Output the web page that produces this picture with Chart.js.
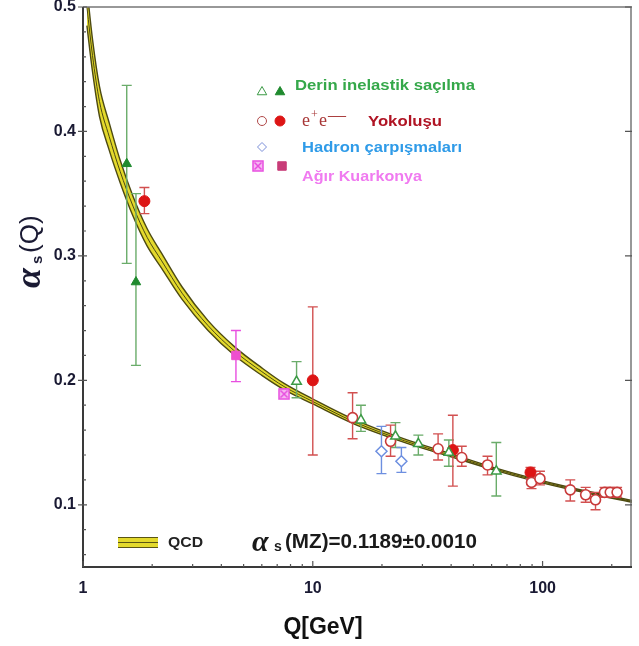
<!DOCTYPE html>
<html>
<head>
<meta charset="utf-8">
<script src="https://cdn.jsdelivr.net/npm/chart.js@4/dist/chart.umd.min.js"></script>
<style>
  html, body { margin: 0; padding: 0; background: #fff; }
</style>
</head>
<body>
<canvas id="alphaChart" width="639" height="646"></canvas>
<script>
// axis ticks
const xTicks = [1, 10, 100];
const yTicks = [0.1, 0.2, 0.3, 0.4, 0.5];
const xMinor = [2, 3, 4, 5, 6, 7, 8, 9, 20, 30, 40, 50, 60, 70, 80, 90, 200];

// QCD band
const bandQ   = [1.04, 1.1, 1.18, 1.3, 1.45, 1.65, 1.9, 2.2, 2.7, 3.5, 4.6, 6, 7.5, 10, 15, 25, 40, 60, 90, 135, 245];
const bandMid = [0.500, 0.461, 0.424, 0.396, 0.368, 0.340, 0.315, 0.296, 0.270, 0.244, 0.223, 0.207, 0.195, 0.183, 0.167, 0.1515, 0.1397, 0.1295, 0.1205, 0.1127, 0.1027];
const bandUp  = [0.515, 0.474, 0.436, 0.407, 0.377, 0.348, 0.322, 0.302, 0.275, 0.248, 0.2265, 0.210, 0.1975, 0.185, 0.1688, 0.1529, 0.1409, 0.1305, 0.1214, 0.1135, 0.1034];
const bandLow = [0.485, 0.448, 0.412, 0.385, 0.359, 0.332, 0.308, 0.290, 0.265, 0.240, 0.2195, 0.204, 0.1925, 0.181, 0.1652, 0.1501, 0.1385, 0.1285, 0.1196, 0.1119, 0.1020];

// Derin inelastik saçılma
const disOpenQ  = [8.5, 16.2, 22.9, 28.8, 39.1, 62.9];
const disOpenA  = [0.199, 0.168, 0.155, 0.149, 0.142, 0.127];
const disOpenLo = [0.186, 0.159, 0.146, 0.140, 0.131, 0.107];
const disOpenHi = [0.215, 0.180, 0.166, 0.156, 0.152, 0.150];
const disFullQ  = [1.55, 1.70];
const disFullA  = [0.374, 0.279];
const disFullLo = [0.294, 0.212];
const disFullHi = [0.437, 0.350];

// e+e- yokoluşu
const eeOpenQ  = [14.9, 21.8, 35.1, 44.5, 57.6, 89.5, 97.4, 132, 154, 170, 186, 197, 211];
const eeOpenA  = [0.170, 0.151, 0.145, 0.138, 0.132, 0.118, 0.121, 0.112, 0.108, 0.104, 0.110, 0.110, 0.110];
const eeOpenLo = [0.153, 0.139, 0.136, 0.131, 0.124, 0.113, 0.116, 0.103, 0.102, 0.096, 0.106, 0.106, 0.106];
const eeOpenHi = [0.190, 0.164, 0.157, 0.147, 0.139, 0.123, 0.127, 0.120, 0.114, 0.110, 0.114, 0.114, 0.114];
const eeFullQ  = [1.85, 10.0, 40.7, 88.6];
const eeFullA  = [0.344, 0.200, 0.144, 0.126];
const eeFullLo = [0.334, 0.140, 0.115, 0.121];
const eeFullHi = [0.355, 0.259, 0.172, 0.130];

// Hadron çarpışmaları
const hadQ  = [19.9, 24.3];
const hadA  = [0.143, 0.135];
const hadLo = [0.125, 0.126];
const hadHi = [0.163, 0.146];

// Ağır kuarkonya
const qqOpenQ  = [7.5];
const qqOpenA  = [0.189];
const qqOpenLo = [0.186];
const qqOpenHi = [0.193];
const qqFullQ  = [4.63];
const qqFullA  = [0.220];
const qqFullLo = [0.199];
const qqFullHi = [0.240];

const GREEN = '#3b9a45', GREEN_BAR = '#6aac6a', GREEN_FULL = '#1f8a2e';
const RED = '#c83a3a', RED_BAR = '#d25050', RED_FULL = '#dd1515';
const BLUE = '#6d8fe0';
const MAG = '#e84fe0', MAG_FULL = '#ee4fcf';
const SANS = '"Liberation Sans", Arial, sans-serif';
const SERIF = '"Liberation Serif", "DejaVu Serif", serif';

const pts = (q, a) => q.map((v, i) => ({ x: v, y: a[i] }));

// crossed square marker
const boxX = document.createElement('canvas');
boxX.width = 12; boxX.height = 12;
(function () {
  const g = boxX.getContext('2d');
  g.fillStyle = '#f7b8f2';
  g.fillRect(1, 1, 10, 10);
  g.strokeStyle = MAG;
  g.lineWidth = 1.5;
  g.strokeRect(1, 1, 10, 10);
  g.beginPath();
  g.moveTo(2.5, 2.5); g.lineTo(9.5, 9.5);
  g.moveTo(9.5, 2.5); g.lineTo(2.5, 9.5);
  g.stroke();
})();

const errGroups = [
  { q: disFullQ, lo: disFullLo, hi: disFullHi, color: GREEN_BAR },
  { q: disOpenQ, lo: disOpenLo, hi: disOpenHi, color: GREEN_BAR },
  { q: eeOpenQ, lo: eeOpenLo, hi: eeOpenHi, color: RED_BAR },
  { q: eeFullQ, lo: eeFullLo, hi: eeFullHi, color: RED_BAR },
  { q: hadQ, lo: hadLo, hi: hadHi, color: BLUE },
  { q: qqOpenQ, lo: qqOpenLo, hi: qqOpenHi, color: MAG },
  { q: qqFullQ, lo: qqFullLo, hi: qqFullHi, color: MAG }
];

// error bars drawn right after the band, below the markers
const errorBars = {
  id: 'errorBars',
  afterDatasetDraw(chart, args) {
    if (!chart.data.datasets[args.index].barsAfter) return;
    const { ctx, scales: { x, y } } = chart;
    ctx.save();
    ctx.lineWidth = 1.4;
    errGroups.forEach(g => {
      ctx.strokeStyle = g.color;
      g.q.forEach((q, i) => {
        const px = x.getPixelForValue(q);
        const y1 = y.getPixelForValue(g.lo[i]);
        const y2 = y.getPixelForValue(g.hi[i]);
        ctx.beginPath();
        ctx.moveTo(px, y1); ctx.lineTo(px, y2);
        ctx.moveTo(px - 5, y1); ctx.lineTo(px + 5, y1);
        ctx.moveTo(px - 5, y2); ctx.lineTo(px + 5, y2);
        ctx.stroke();
      });
    });
    ctx.restore();
  }
};

// text stretched to a measured width
function fitText(ctx, text, x, y, font, color, width) {
  ctx.save();
  ctx.font = font;
  ctx.fillStyle = color;
  ctx.textBaseline = 'middle';
  const w = ctx.measureText(text).width;
  const sx = width ? width / w : 1;
  ctx.translate(x, y);
  ctx.scale(sx, 1);
  ctx.fillText(text, 0, 0);
  ctx.restore();
}

function marker(ctx, style, x, y, r, fill, stroke) {
  ctx.save();
  ctx.fillStyle = fill;
  ctx.strokeStyle = stroke;
  Chart.helpers.drawPoint(ctx, { pointStyle: style, radius: r, borderWidth: 1.5, rotation: 0 }, x, y);
  ctx.restore();
}

const decor = {
  id: 'decor',
  afterDatasetsDraw(chart) {
    const { ctx, chartArea: a, scales: { x, y } } = chart;
    ctx.save();
    // frame
    ctx.strokeStyle = '#777';
    ctx.lineWidth = 1.5;
    ctx.beginPath();
    ctx.moveTo(a.left, a.top); ctx.lineTo(a.right - 1, a.top); ctx.lineTo(a.right - 1, a.bottom);
    ctx.stroke();
    ctx.strokeStyle = '#3a3a3a';
    ctx.lineWidth = 2;
    ctx.beginPath();
    ctx.moveTo(a.left, a.top); ctx.lineTo(a.left, a.bottom); ctx.lineTo(a.right, a.bottom);
    ctx.stroke();
    // ticks
    ctx.lineWidth = 1.2;
    ctx.strokeStyle = '#555';
    ctx.beginPath();
    yTicks.forEach(v => {
      const py = y.getPixelForValue(v);
      ctx.moveTo(a.left - 5, py); ctx.lineTo(a.left + 4, py);
      ctx.moveTo(a.right - 7, py); ctx.lineTo(a.right, py);
    });
    for (let k = 3; k <= 24; k++) {
      const v = k * 0.02;
      if (k % 5 === 0) continue;
      const py = y.getPixelForValue(v);
      ctx.moveTo(a.left, py); ctx.lineTo(a.left + 3, py);
    }
    xTicks.forEach(v => {
      const px = x.getPixelForValue(v);
      ctx.moveTo(px, a.bottom); ctx.lineTo(px, a.bottom - 6);
    });
    xMinor.forEach(v => {
      const px = x.getPixelForValue(v);
      ctx.moveTo(px, a.bottom); ctx.lineTo(px, a.bottom - 3);
    });
    ctx.stroke();
    ctx.restore();

    // upper legend
    marker(ctx, 'triangle', 262, 92, 5.5, '#fff', GREEN);
    marker(ctx, 'triangle', 280, 92, 5.5, GREEN_FULL, GREEN_FULL);
    fitText(ctx, 'Derin inelastik saçılma', 295, 86, 'bold 14px ' + SANS, '#35a84a', 180);

    marker(ctx, 'circle', 262, 121, 4.5, '#fff', '#b04848');
    marker(ctx, 'circle', 280, 121, 5, RED_FULL, RED_FULL);
    ctx.save();
    ctx.fillStyle = '#a83838';
    ctx.textBaseline = 'alphabetic';
    ctx.font = '18px ' + SERIF;
    ctx.fillText('e', 302, 126);
    ctx.font = '12px ' + SERIF;
    ctx.fillText('+', 311, 118);
    ctx.font = '18px ' + SERIF;
    ctx.fillText('e', 319, 126);
    ctx.fillText('—', 328, 121);
    ctx.restore();
    fitText(ctx, 'Yokoluşu', 368, 122, 'bold 14px ' + SANS, '#b01424', 74);

    marker(ctx, 'rectRot', 262, 147, 4.5, '#fff', '#7a8ed8');
    fitText(ctx, 'Hadron çarpışmaları', 302, 148, 'bold 14px ' + SANS, '#2f9be8', 160);

    marker(ctx, boxX, 258, 166, 5, '#fff', MAG);
    marker(ctx, 'rect', 282, 166, 6, '#c83c78', '#c83c78');
    fitText(ctx, 'Ağır Kuarkonya', 302, 177, 'bold 14px ' + SANS, '#f07af0', 120);

    // lower legend: QCD band sample
    ctx.save();
    ctx.fillStyle = '#e3d92c';
    ctx.fillRect(118, 537, 40, 11);
    ctx.strokeStyle = '#5a5514';
    ctx.lineWidth = 1.2;
    ctx.beginPath();
    [537.5, 542.5, 547.5].forEach(v => { ctx.moveTo(118, v); ctx.lineTo(158, v); });
    ctx.stroke();
    ctx.restore();
    fitText(ctx, 'QCD', 168, 543, 'bold 14px ' + SANS, '#222', 35);

    ctx.save();
    ctx.fillStyle = '#1a1a1a';
    ctx.textBaseline = 'alphabetic';
    ctx.font = 'bold italic 30px ' + SERIF;
    ctx.fillText('α', 252, 551);
    ctx.font = 'bold 14px ' + SANS;
    ctx.fillText('s', 274, 551);
    ctx.restore();
    fitText(ctx, '(MZ)=0.1189±0.0010', 285, 542, 'bold 21px ' + SANS, '#1a1a1a', 192);

    // axis titles
    ctx.save();
    ctx.fillStyle = '#111';
    ctx.textAlign = 'center';
    ctx.textBaseline = 'middle';
    ctx.font = 'bold 23px ' + SANS;
    ctx.fillText('Q[GeV]', 323, 628);
    ctx.restore();

    ctx.save();
    ctx.translate(30, 247);
    ctx.rotate(-Math.PI / 2);
    ctx.fillStyle = '#1a1a33';
    ctx.textBaseline = 'alphabetic';
    ctx.font = 'bold italic 36px ' + SERIF;
    ctx.fillText('α', -41, 10);
    ctx.font = 'bold 15px ' + SANS;
    ctx.fillText('s', -17, 12);
    ctx.font = '26px ' + SANS;
    ctx.fillText('(Q)', -6, 8);
    ctx.restore();
  }
};

const bandLine = '#4d4a12';

new Chart(document.getElementById('alphaChart'), {
  type: 'scatter',
  data: {
    datasets: [
      // markers
      { data: pts(disFullQ, disFullA), pointStyle: 'triangle', radius: 5.5, backgroundColor: GREEN_FULL, borderColor: GREEN_FULL, borderWidth: 1, order: 1 },
      { data: pts(disOpenQ, disOpenA), pointStyle: 'triangle', radius: 5.5, backgroundColor: '#fff', borderColor: GREEN, borderWidth: 1.5, order: 1 },
      { data: pts(eeOpenQ, eeOpenA), pointStyle: 'circle', radius: 5, backgroundColor: '#fff', borderColor: RED, borderWidth: 1.6, order: 1 },
      { data: pts(eeFullQ, eeFullA), pointStyle: 'circle', radius: 5.5, backgroundColor: RED_FULL, borderColor: RED_FULL, borderWidth: 1, order: 1 },
      { data: pts(hadQ, hadA), pointStyle: 'rectRot', radius: 5.5, backgroundColor: '#fff', borderColor: BLUE, borderWidth: 1.5, order: 1 },
      { data: pts(qqOpenQ, qqOpenA), pointStyle: boxX, radius: 6, order: 1 },
      { data: pts(qqFullQ, qqFullA), pointStyle: 'rect', radius: 6, backgroundColor: MAG_FULL, borderColor: MAG_FULL, borderWidth: 1, order: 1 },
      // QCD band
      { data: pts(bandQ, bandMid), showLine: true, pointRadius: 0, borderColor: bandLine, borderWidth: 1, cubicInterpolationMode: 'monotone', order: 5, barsAfter: true },
      { data: pts(bandQ, bandUp), showLine: true, pointRadius: 0, borderColor: bandLine, borderWidth: 1.4, cubicInterpolationMode: 'monotone', fill: '+1', backgroundColor: '#e3d92c', order: 7 },
      { data: pts(bandQ, bandLow), showLine: true, pointRadius: 0, borderColor: bandLine, borderWidth: 1.4, cubicInterpolationMode: 'monotone', order: 6 }
    ]
  },
  options: {
    responsive: false,
    animation: false,
    layout: { padding: { top: 6, right: 0, bottom: 0, left: 0 } },
    plugins: { legend: { display: false }, tooltip: { enabled: false } },
    scales: {
      x: {
        type: 'logarithmic',
        min: 1,
        max: 245,
        grid: { display: false, drawTicks: false },
        border: { display: false },
        afterBuildTicks: s => { s.ticks = xTicks.map(v => ({ value: v })); },
        afterFit: s => { s.height = 79; s.paddingLeft = 0; s.paddingRight = 0; },
        ticks: {
          callback: v => String(v),
          autoSkip: false,
          maxRotation: 0,
          padding: 12,
          color: '#1a1a33',
          font: { family: SANS, weight: 'bold', size: 16 }
        }
      },
      y: {
        min: 0.05,
        max: 0.5,
        grid: { display: false, drawTicks: false },
        border: { display: false },
        afterBuildTicks: s => { s.ticks = yTicks.map(v => ({ value: v })); },
        afterFit: s => { s.width = 83; s.paddingTop = 0; s.paddingBottom = 0; },
        ticks: {
          callback: v => v.toFixed(1),
          padding: 7,
          color: '#1a1a33',
          font: { family: SANS, weight: 'bold', size: 16 }
        }
      }
    }
  },
  plugins: [errorBars, decor]
});
</script>
</body>
</html>
